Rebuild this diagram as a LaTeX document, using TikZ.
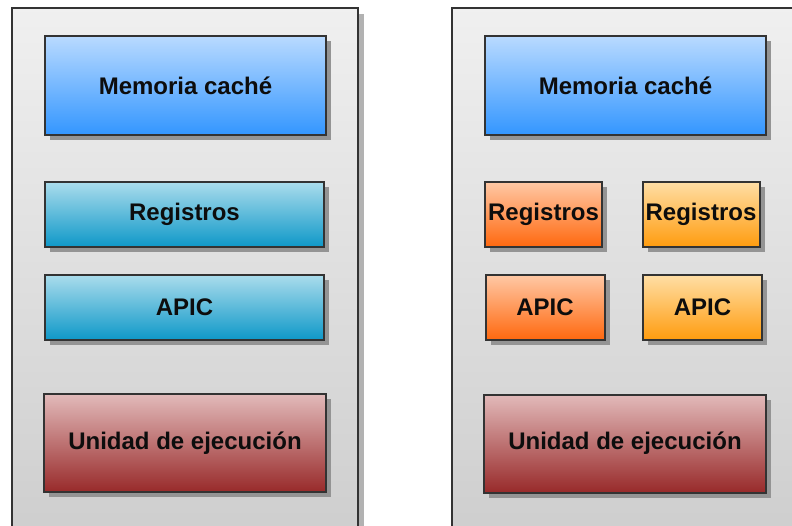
\documentclass[tikz,border=0pt]{standalone}
\usepackage{fontspec}
\setmainfont{Liberation Sans}
\usetikzlibrary{shadows}
\begin{document}
\begin{tikzpicture}[x=1pt,y=-1pt,
  outerbox/.style={draw=black!80, line width=2pt, top color=black!6, bottom color=black!19,
    drop shadow={shadow xshift=6pt, shadow yshift=-6pt, fill=black!30, opacity=1}},
  unit/.style={draw=black!80, line width=2pt, inner sep=0pt, anchor=center,
    font=\fontsize{24}{26}\selectfont\bfseries, text=black!95,
    drop shadow={shadow xshift=5pt, shadow yshift=-5pt, fill=black!42, opacity=1}},
  cache/.style={unit, top color={rgb,255:red,185;green,218;blue,255}, bottom color={rgb,255:red,51;green,150;blue,255}},
  regcyan/.style={unit, top color={rgb,255:red,170;green,220;blue,236}, bottom color={rgb,255:red,14;green,152;blue,200}},
  regorange/.style={unit, top color={rgb,255:red,255;green,200;blue,165}, bottom color={rgb,255:red,255;green,104;blue,14}},
  regamber/.style={unit, top color={rgb,255:red,255;green,222;blue,165}, bottom color={rgb,255:red,255;green,156;blue,14}},
  exec/.style={unit, top color={rgb,255:red,226;green,186;blue,186}, bottom color={rgb,255:red,152;green,42;blue,42}}
]
\useasboundingbox (0,0) rectangle (792,525);
\clip (0,0) rectangle (792,525);

% processor packages
\path[outerbox] (12,8) rectangle (358,527);
\path[outerbox] (452,8) rectangle (800,527);

% single-core package
\node[cache,   minimum width=281pt, minimum height=99pt] (cacheA) at (185.5,85.5) {Memoria caché};
\node[regcyan, minimum width=279pt, minimum height=65pt] (regA)   at (184.5,214.5) {Registros};
\node[regcyan, minimum width=279pt, minimum height=65pt] (apicA)  at (184.5,307.5) {APIC};
\node[exec,    minimum width=282pt, minimum height=98pt] (execA)  at (185,443) {Unidad de ejecución};

% dual-thread package
\node[cache,     minimum width=281pt, minimum height=99pt] (cacheB) at (625.5,85.5) {Memoria caché};
\node[regorange, minimum width=117pt, minimum height=65pt] (regB1)  at (543.5,214.5) {Registros};
\node[regamber,  minimum width=117pt, minimum height=65pt] (regB2)  at (701,214.5) {Registros};
\node[regorange, minimum width=119pt, minimum height=65pt] (apicB1) at (545,307.5) {APIC};
\node[regamber,  minimum width=119pt, minimum height=65pt] (apicB2) at (702.5,307.5) {APIC};
\node[exec,      minimum width=282pt, minimum height=98pt] (execB)  at (625,443.5) {Unidad de ejecución};
\end{tikzpicture}
\end{document}
